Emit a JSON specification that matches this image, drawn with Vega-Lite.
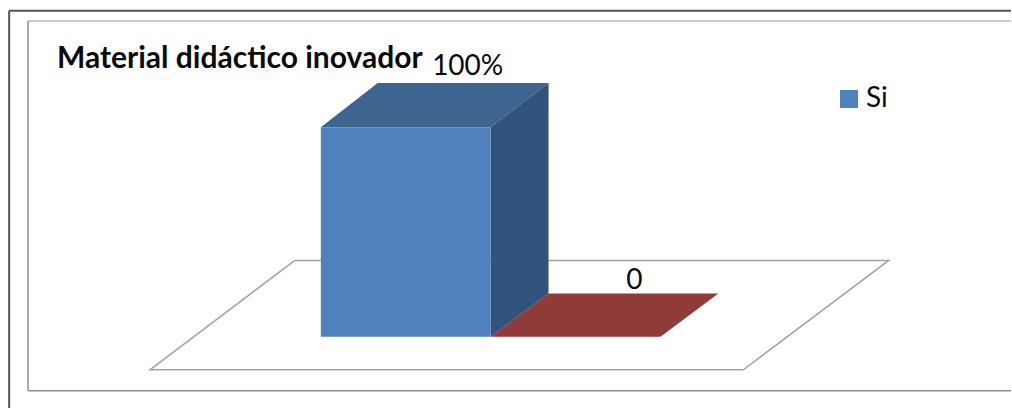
{
"$schema":"https://vega.github.io/schema/vega-lite/v6.json",
"width":1012,"height":409,
"autosize":{"type":"fit","contains":"padding"},
"padding":0,
"background":"white",
"config":{"view":{"stroke":null},"font":"Lato"},
"title":{"text":"Material didáctico inovador","orient":"top","anchor":"start","frame":"group","dx":57,"offset":-74,"fontSize":30,"fontWeight":"bold","font":"Lato","color":"#0a0a0a"},
"layer":[
{"data":{"values":[{"x":-183.5,"x2":406.4,"y":155.5,"y2":155.5},{"x":-183.5,"x2":-183.5,"y":155.5,"y2":-34.03}]},
 "mark":{"type":"rule","stroke":"#555555","strokeWidth":2},
 "encoding":{
  "x":{"field":"x","type":"quantitative","scale":{"domain":[-188.9,406.4],"nice":false,"zero":false},"axis":null},
  "x2":{"field":"x2"},
  "y":{"field":"y","type":"quantitative","scale":{"domain":[-34.03,160.67],"nice":false,"zero":false},"axis":null},
  "y2":{"field":"y2"}}},
{"data":{"values":[{"x":-172.4,"x2":406.4,"y":150.7,"y2":150.7}]},
 "mark":{"type":"rule","stroke":"#bbbbbb","strokeWidth":1.5},
 "encoding":{"x":{"field":"x","type":"quantitative"},"x2":{"field":"x2"},"y":{"field":"y","type":"quantitative"},"y2":{"field":"y2"}}},
{"data":{"values":[{"x":-172.4,"x2":-172.4,"y":150.7,"y2":-25.8},{"x":-172.4,"x2":406.4,"y":-25.8,"y2":-25.8}]},
 "mark":{"type":"rule","stroke":"#8c8c8c","strokeWidth":1.5},
 "encoding":{"x":{"field":"x","type":"quantitative"},"x2":{"field":"x2"},"y":{"field":"y","type":"quantitative"},"y2":{"field":"y2"}}},
{"data":{"values":[{"y":-15.8,"x":-100.6,"x2":248.8},{"y":36.4,"x":-15.3,"x2":334.4}]},
 "mark":{"type":"area","orient":"horizontal","fill":"white","stroke":"#a3a3a3","strokeWidth":1.5},
 "encoding":{"x":{"field":"x","type":"quantitative","stack":null},"x2":{"field":"x2"},"y":{"field":"y","type":"quantitative"}}},
{"data":{"values":[{"y":0,"x":100,"x2":200},{"y":20.6,"x":134.1,"x2":234.1}]},
 "mark":{"type":"area","orient":"horizontal","fill":"#8e3b3a"},
 "encoding":{"x":{"field":"x","type":"quantitative","stack":null},"x2":{"field":"x2"},"y":{"field":"y","type":"quantitative"}}},
{"data":{"values":[{"y":100,"x":0,"x2":100},{"y":121.1,"x":33.5,"x2":134.1}]},
 "mark":{"type":"area","orient":"horizontal","fill":"#3e6490"},
 "encoding":{"x":{"field":"x","type":"quantitative","stack":null},"x2":{"field":"x2"},"y":{"field":"y","type":"quantitative"}}},
{"data":{"values":[{"x":100,"y":100,"y2":0},{"x":134.1,"y":121.1,"y2":20.6}]},
 "mark":{"type":"area","orient":"vertical","fill":"#32547c"},
 "encoding":{"x":{"field":"x","type":"quantitative"},"y":{"field":"y","type":"quantitative","stack":null},"y2":{"field":"y2"}}},
{"data":{"values":[{"serie":"Si","x":0,"x2":100,"value":100,"base":0}]},
 "mark":{"type":"rect"},
 "encoding":{
  "x":{"field":"x","type":"quantitative"},"x2":{"field":"x2"},
  "y":{"field":"value","type":"quantitative"},"y2":{"field":"base"},
  "color":{"field":"serie","type":"nominal","scale":{"domain":["Si"],"range":["#4f81bd"]},
   "legend":{"title":null,"orient":"none","legendX":835,"legendY":85,"symbolType":"square","symbolSize":324,"symbolStrokeWidth":0,"labelFontSize":28,"labelFont":"Lato","labelColor":"#0a0a0a","labelOffset":3,"symbolOpacity":1}}}},
{"data":{"values":[{"x":86.5,"y":124.9,"label":"100%"},{"x":184.7,"y":22.9,"label":"0"}]},
 "mark":{"type":"text","fontSize":28,"font":"Lato","color":"#0a0a0a","align":"center","baseline":"alphabetic"},
 "encoding":{"x":{"field":"x","type":"quantitative"},"y":{"field":"y","type":"quantitative"},"text":{"field":"label","type":"nominal"}}}
]
}
